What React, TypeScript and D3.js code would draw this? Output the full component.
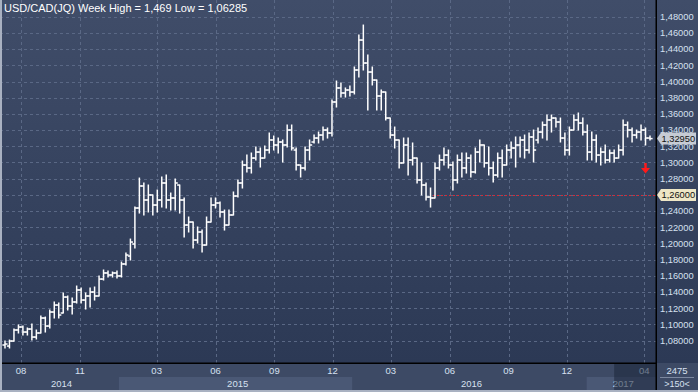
import React, { useEffect, useRef } from 'react';
import * as d3 from 'd3';

// weekly USD/CAD bars, first week starting 2014-07-07
const chartTitle = 'USD/CAD(JQ) Week High = 1,469 Low = 1,06285';
const firstWeek = new Date(2014, 6, 7);

const opens = [
  1.0747, 1.0734, 1.0796, 1.0932, 1.0969, 1.0907, 1.0944, 1.0845, 1.0895, 1.1080,
  1.0981, 1.1154, 1.1240, 1.1142, 1.1339, 1.1228, 1.1278, 1.1426, 1.1302, 1.1352,
  1.1401, 1.1352, 1.1561, 1.1636, 1.1611, 1.1636, 1.1599, 1.1747, 1.1845, 1.1994,
  1.2438, 1.2710, 1.2537, 1.2599, 1.2475, 1.2537, 1.2747, 1.2537, 1.2562, 1.2722,
  1.2537, 1.2228, 1.2265, 1.2043, 1.2142, 1.1981, 1.2265, 1.2475, 1.2500, 1.2389,
  1.2228, 1.2352, 1.2586, 1.2747, 1.2969, 1.2932, 1.3055, 1.3129, 1.3055, 1.3154,
  1.3278, 1.3216, 1.3253, 1.3216, 1.3401, 1.3154, 1.2969, 1.2932, 1.3154, 1.3253,
  1.3302, 1.3339, 1.3401, 1.3364, 1.3747, 1.3920, 1.3858, 1.3895, 1.3870, 1.4142,
  1.4512, 1.4228, 1.4117, 1.4018, 1.3821, 1.3870, 1.3549, 1.3339, 1.3278, 1.2994,
  1.3216, 1.3031, 1.3055, 1.2784, 1.2722, 1.2574, 1.2562, 1.2932, 1.3031, 1.3092,
  1.2969, 1.2784, 1.3031, 1.2932, 1.3055, 1.2883, 1.3129, 1.3216, 1.2994, 1.2932,
  1.2845, 1.3055, 1.2969, 1.3154, 1.3179, 1.3216, 1.3278, 1.3154, 1.3315, 1.3278,
  1.3376, 1.3463, 1.3525, 1.3549, 1.3500, 1.3302, 1.3154, 1.3401, 1.3525, 1.3487,
  1.3376, 1.3129, 1.3278, 1.3092, 1.3129, 1.3031, 1.3117, 1.3055, 1.3154, 1.3463,
  1.3401, 1.3339, 1.3376, 1.3401, 1.3302
];
const highs = [
  1.0796, 1.0808, 1.0944, 1.0994, 1.0981, 1.0957, 1.1006, 1.0932, 1.1105, 1.1092,
  1.1179, 1.1278, 1.1265, 1.1389, 1.1352, 1.1327, 1.1475, 1.1450, 1.1389, 1.1450,
  1.1463, 1.1599, 1.1673, 1.1660, 1.1648, 1.1660, 1.1771, 1.1882, 1.2055, 1.2450,
  1.2808, 1.2747, 1.2722, 1.2599, 1.2660, 1.2821, 1.2845, 1.2623, 1.2796, 1.2722,
  1.2562, 1.2327, 1.2265, 1.2204, 1.2166, 1.2327, 1.2562, 1.2562, 1.2512, 1.2413,
  1.2413, 1.2636, 1.2784, 1.3018, 1.3092, 1.3117, 1.3191, 1.3179, 1.3204, 1.3364,
  1.3327, 1.3302, 1.3278, 1.3463, 1.3463, 1.3179, 1.2969, 1.3191, 1.3278, 1.3339,
  1.3376, 1.3438, 1.3426, 1.3771, 1.4006, 1.3981, 1.3920, 1.3944, 1.4179, 1.4574,
  1.4697, 1.4327, 1.4179, 1.4018, 1.3895, 1.3870, 1.3549, 1.3438, 1.3278, 1.3302,
  1.3302, 1.3241, 1.3055, 1.2994, 1.2747, 1.2685, 1.2994, 1.3092, 1.3179, 1.3154,
  1.3006, 1.3092, 1.3117, 1.3117, 1.3092, 1.3179, 1.3278, 1.3216, 1.3191, 1.3006,
  1.3117, 1.3154, 1.3216, 1.3253, 1.3315, 1.3315, 1.3339, 1.3364, 1.3401, 1.3426,
  1.3500, 1.3586, 1.3586, 1.3549, 1.3549, 1.3364, 1.3438, 1.3586, 1.3611, 1.3549,
  1.3463, 1.3376, 1.3339, 1.3179, 1.3216, 1.3154, 1.3154, 1.3216, 1.3525, 1.3500,
  1.3426, 1.3401, 1.3463, 1.3426, 1.3327
];
const lows = [
  1.0710, 1.0710, 1.0796, 1.0895, 1.0870, 1.0870, 1.0808, 1.0821, 1.0895, 1.0907,
  1.0957, 1.1080, 1.1080, 1.1142, 1.1179, 1.1129, 1.1265, 1.1265, 1.1191, 1.1216,
  1.1302, 1.1352, 1.1549, 1.1586, 1.1586, 1.1574, 1.1586, 1.1734, 1.1796, 1.1944,
  1.2376, 1.2352, 1.2389, 1.2352, 1.2389, 1.2450, 1.2438, 1.2413, 1.2413, 1.2376,
  1.2080, 1.2142, 1.1944, 1.2006, 1.1895, 1.1981, 1.2265, 1.2438, 1.2327, 1.2166,
  1.2228, 1.2352, 1.2574, 1.2685, 1.2883, 1.2870, 1.3031, 1.2944, 1.3055, 1.3117,
  1.3154, 1.3117, 1.3006, 1.3191, 1.3154, 1.2907, 1.2821, 1.2907, 1.3031, 1.3241,
  1.3241, 1.3278, 1.3302, 1.3327, 1.3685, 1.3808, 1.3808, 1.3821, 1.3846, 1.4055,
  1.4142, 1.3648, 1.3957, 1.3648, 1.3648, 1.3525, 1.3302, 1.3179, 1.2932, 1.2994,
  1.2845, 1.2969, 1.2747, 1.2599, 1.2537, 1.2450, 1.2562, 1.2907, 1.2969, 1.2932,
  1.2660, 1.2747, 1.2821, 1.2870, 1.2821, 1.2870, 1.3006, 1.2944, 1.2845, 1.2759,
  1.2821, 1.2821, 1.2969, 1.3055, 1.2944, 1.3068, 1.3055, 1.3117, 1.3006, 1.3241,
  1.3302, 1.3278, 1.3376, 1.3438, 1.3253, 1.3092, 1.3092, 1.3401, 1.3401, 1.3339,
  1.3031, 1.3031, 1.3006, 1.2969, 1.2994, 1.3006, 1.3006, 1.3055, 1.3092, 1.3315,
  1.3253, 1.3302, 1.3278, 1.3216, 1.3278
];
const closes = [
  1.0759, 1.0796, 1.0932, 1.0969, 1.0907, 1.0944, 1.0845, 1.0895, 1.1080, 1.0981,
  1.1154, 1.1240, 1.1117, 1.1339, 1.1228, 1.1278, 1.1426, 1.1302, 1.1352, 1.1401,
  1.1352, 1.1561, 1.1636, 1.1611, 1.1636, 1.1599, 1.1747, 1.1858, 1.2018, 1.2438,
  1.2710, 1.2537, 1.2599, 1.2475, 1.2537, 1.2747, 1.2537, 1.2562, 1.2747, 1.2537,
  1.2228, 1.2265, 1.2043, 1.2142, 1.1981, 1.2265, 1.2475, 1.2500, 1.2389, 1.2228,
  1.2352, 1.2586, 1.2747, 1.2969, 1.2932, 1.3055, 1.3129, 1.3055, 1.3154, 1.3278,
  1.3216, 1.3253, 1.3216, 1.3401, 1.3179, 1.2969, 1.2932, 1.3154, 1.3216, 1.3302,
  1.3339, 1.3401, 1.3364, 1.3747, 1.3920, 1.3858, 1.3895, 1.3870, 1.4142, 1.4512,
  1.4228, 1.4117, 1.4018, 1.3821, 1.3870, 1.3549, 1.3339, 1.3278, 1.2994, 1.3216,
  1.3031, 1.3055, 1.2784, 1.2722, 1.2574, 1.2562, 1.2932, 1.3031, 1.3092, 1.2969,
  1.2784, 1.3031, 1.2932, 1.3055, 1.2883, 1.3129, 1.3216, 1.2994, 1.2932, 1.2845,
  1.3055, 1.2969, 1.3154, 1.3179, 1.3216, 1.3278, 1.3154, 1.3315, 1.3154, 1.3376,
  1.3463, 1.3525, 1.3549, 1.3500, 1.3302, 1.3154, 1.3401, 1.3525, 1.3487, 1.3376,
  1.3129, 1.3278, 1.3092, 1.3129, 1.3031, 1.3117, 1.3055, 1.3154, 1.3463, 1.3401,
  1.3339, 1.3376, 1.3401, 1.3302, 1.3295
];

const priceTicks = [1.08, 1.10, 1.12, 1.14, 1.16, 1.18, 1.20, 1.22, 1.24, 1.26, 1.28,
  1.30, 1.32, 1.34, 1.36, 1.38, 1.40, 1.42, 1.44, 1.46, 1.48];
const monthTicks = ['2014-08-01', '2014-11-01', '2015-03-01', '2015-06-01', '2015-09-01',
  '2015-12-01', '2016-03-01', '2016-06-01', '2016-09-01', '2016-12-01', '2017-04-01'];
const years = [2014, 2015, 2016, 2017];
const lastPrice = 1.3295;
const supportPrice = 1.26;
const supportFrom = 96; // bar index where the support line starts
const signalBar = 143;
const signalPrice = 1.292;
const scrollFrom = '2017-02-13';
const barCount = '2475';
const zoomLabel = '>150<';

const fmt = (v: number) => d3.format('.5f')(v).replace('.', ',');

export default function App() {
  const ref = useRef<SVGSVGElement>(null);

  useEffect(() => {
    document.body.style.margin = '0';
    const W = 698, H = 392;
    const plotRight = 656, plotBottom = 363, axisBottom = 390;
    const font = '"Liberation Sans", Arial, sans-serif';

    const svg = d3.select(ref.current);
    svg.selectAll('*').remove();

    const parse = d3.timeParse('%Y-%m-%d');
    const dates = opens.map((_, i) => d3.timeDay.offset(firstWeek, i * 7));
    const x = d3.scaleTime()
      .domain([dates[0], dates[dates.length - 1]])
      .range([5, 650]);
    const y = d3.scaleLinear().domain([1.08, 1.48]).range([340.7, 16.7]);

    const defs = svg.append('defs');
    const grad = defs.append('linearGradient').attr('id', 'bg')
      .attr('x1', 0).attr('y1', 0).attr('x2', 0).attr('y2', 1);
    grad.append('stop').attr('offset', '0%').attr('stop-color', '#404d69');
    grad.append('stop').attr('offset', '100%').attr('stop-color', '#2c3955');

    svg.append('rect').attr('width', W).attr('height', plotBottom).attr('fill', 'url(#bg)');

    // grid
    const gridColor = '#5a6885';
    svg.append('g').selectAll('line').data(priceTicks).enter().append('line')
      .attr('x1', 0).attr('x2', plotRight)
      .attr('y1', d => Math.round(y(d)) + 0.5).attr('y2', d => Math.round(y(d)) + 0.5)
      .attr('stroke', gridColor).attr('stroke-dasharray', '3,3');
    const months = monthTicks.map(s => parse(s) as Date);
    svg.append('g').selectAll('line').data(months).enter().append('line')
      .attr('x1', d => Math.round(x(d)) + 0.5).attr('x2', d => Math.round(x(d)) + 0.5)
      .attr('y1', 0).attr('y2', plotBottom)
      .attr('stroke', gridColor).attr('stroke-dasharray', '3,3');

    // support line
    svg.append('line')
      .attr('x1', x(dates[supportFrom]) - 2).attr('x2', plotRight)
      .attr('y1', Math.round(y(supportPrice)) + 0.5).attr('y2', Math.round(y(supportPrice)) + 0.5)
      .attr('stroke', '#d42a36').attr('stroke-dasharray', '2,2');

    // OHLC bars
    const bars = svg.append('g').attr('stroke', '#ffffff').attr('stroke-width', 1.5);
    dates.forEach((d, i) => {
      const cx = x(d);
      bars.append('line').attr('x1', cx).attr('x2', cx)
        .attr('y1', y(highs[i]) - 0.5).attr('y2', y(lows[i]) + 0.5);
      bars.append('line').attr('x1', cx - 2.6).attr('x2', cx)
        .attr('y1', y(opens[i])).attr('y2', y(opens[i]));
      bars.append('line').attr('x1', cx).attr('x2', cx + 2.6)
        .attr('y1', y(closes[i])).attr('y2', y(closes[i]));
    });

    // signal arrow
    const ax = x(dates[signalBar]), ay = y(signalPrice);
    svg.append('path')
      .attr('d', `M${ax - 1.2},${ay - 6}h2.4v5h3.3l-4.5,5.5l-4.5,-5.5h3.3z`)
      .attr('fill', '#ff1a1a');

    // title
    svg.append('text').attr('x', 4).attr('y', 12)
      .attr('font-family', font).attr('font-size', 11).attr('fill', '#ffffff')
      .text(chartTitle);

    // date axis
    svg.append('rect').attr('x', 0).attr('y', plotBottom).attr('width', plotRight)
      .attr('height', axisBottom - plotBottom).attr('fill', '#3d4a65');
    const yearStarts = years.map(yr => new Date(yr, 0, 1));
    years.forEach((yr, i) => {
      const a = Math.max(0, x(yearStarts[i]));
      const b = i < years.length - 1 ? Math.min(plotRight, x(yearStarts[i + 1])) : plotRight;
      svg.append('rect').attr('x', a).attr('y', 377).attr('width', b - a).attr('height', axisBottom - 377)
        .attr('fill', i % 2 === 0 ? '#3d4a65' : '#4a5875');
      svg.append('text').attr('x', (a + b) / 2 + 2).attr('y', 387)
        .attr('text-anchor', 'middle').attr('font-family', font).attr('font-size', 9.5)
        .attr('fill', '#d6e0f0').text(String(yr));
    });
    svg.append('g').selectAll('text').data(months).enter().append('text')
      .attr('x', d => x(d)).attr('y', 374)
      .attr('text-anchor', 'middle').attr('font-family', font).attr('font-size', 9.5)
      .attr('fill', '#d6e0f0').text(d => d3.timeFormat('%m')(d));
    const sx = x(parse(scrollFrom) as Date);
    svg.append('rect').attr('x', sx).attr('y', plotBottom).attr('width', plotRight - sx)
      .attr('height', axisBottom - plotBottom).attr('fill', '#1c263b').attr('opacity', 0.55);

    svg.append('rect').attr('x', 0).attr('y', plotBottom - 0.5).attr('width', plotRight)
      .attr('height', 1.5).attr('fill', '#000');

    // price axis (the tick under a price tag is covered by it)
    svg.append('rect').attr('x', plotRight).attr('y', plotBottom).attr('width', W - plotRight)
      .attr('height', axisBottom - plotBottom).attr('fill', '#3d4a65');
    const tagged = [lastPrice, supportPrice];
    svg.append('g').selectAll('text')
      .data(priceTicks.filter(t => tagged.every(p => Math.abs(y(t) - y(p)) > 6)))
      .enter().append('text')
      .attr('x', 660).attr('y', d => y(d) + 3.3)
      .attr('font-family', font).attr('font-size', 9.3).attr('fill', '#d6e0f0')
      .text(d => fmt(d));

    const tag = (v: number, fill: string) => {
      const ty = y(v);
      svg.append('path')
        .attr('d', `M657,${ty}L661,${ty - 6}H696V${ty + 6}H661Z`)
        .attr('fill', fill);
      svg.append('text').attr('x', 661.5).attr('y', ty + 3.3)
        .attr('font-family', font).attr('font-size', 9.3).attr('fill', '#111')
        .text(fmt(v));
    };
    tag(lastPrice, '#c6cbd4');
    tag(supportPrice, '#ede6c6');

    svg.append('line').attr('x1', 660).attr('x2', 694).attr('y1', 377.5).attr('y2', 377.5)
      .attr('stroke', '#7c88a0');
    svg.append('text').attr('x', 677).attr('y', 374).attr('text-anchor', 'middle')
      .attr('font-family', font).attr('font-size', 9.5).attr('fill', '#d6e0f0').text(barCount);
    svg.append('text').attr('x', 677).attr('y', 387).attr('text-anchor', 'middle')
      .attr('font-family', font).attr('font-size', 9).attr('fill', '#d6e0f0').text(zoomLabel);

    svg.append('rect').attr('x', plotRight - 0.5).attr('y', 0).attr('width', 1.5)
      .attr('height', axisBottom).attr('fill', '#000');

    // window frame
    svg.append('rect').attr('x', 0).attr('y', 0).attr('width', 2).attr('height', H).attr('fill', '#a9b1c1');
    svg.append('rect').attr('x', 0).attr('y', axisBottom).attr('width', W).attr('height', 2).attr('fill', '#a9b1c1');
  }, []);

  return (
    <svg ref={ref} width={698} height={392}
      style={{ position: 'absolute', left: 0, top: 0, display: 'block' }} />
  );
}
